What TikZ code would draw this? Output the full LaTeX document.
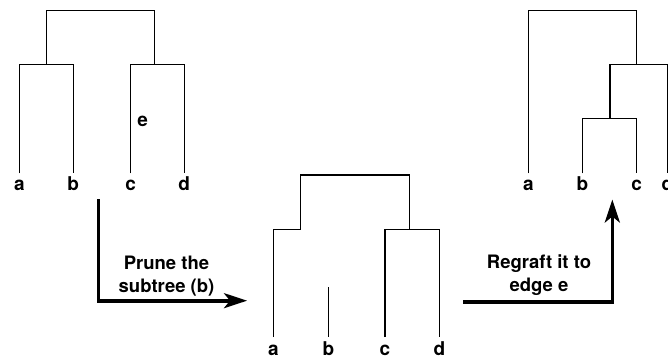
\documentclass[tikz,border=0pt]{standalone}
\usepackage{fontspec}
\setmainfont{TeX Gyre Heros}
\usetikzlibrary{arrows.meta}
\begin{document}
\begin{tikzpicture}[x=1pt,y=-1pt,
  branch/.style={draw=black,line width=1.3pt},
  leaf/.style={font=\fontsize{19}{22}\selectfont\bfseries,anchor=base,inner sep=0pt},
  move/.style={draw=black,line width=3.6pt,line join=miter,
    -{Stealth[length=23pt,width=15pt,inset=6pt]}},
  note/.style={font=\fontsize{18.5}{23.5}\selectfont\bfseries,align=center,inner sep=0pt}]
\useasboundingbox (0,0) rectangle (668,358);

% ---- tree 1: ((a,b),(c,d)) ----
\node[leaf] (a1) at (19.3,190.5) {a};
\node[leaf] (b1) at (73.3,190.5) {b};
\node[leaf] (c1) at (130.7,190.5) {c};
\node[leaf] (d1) at (184.3,190.5) {d};
\node[leaf] (e1) at (142.7,126.5) {e};
\coordinate (ab1) at (46.3,64.3);
\coordinate (cd1) at (154.3,64.3);
\draw[branch] (19.3,173.3) -- (19.3,64.3) -- (73.3,64.3) -- (73.3,173.3);
\draw[branch] (130.7,173.3) -- (130.7,64.3) -- (184.3,64.3) -- (184.3,173.3);
\draw[branch] (ab1) -- (46.3,10.7) -- (154.3,10.7) -- (cd1);

% ---- tree 2: b pruned ----
\node[leaf] (a2) at (273.3,355) {a};
\node[leaf] (b2) at (328.3,355) {b};
\node[leaf] (c2) at (385,355) {c};
\node[leaf] (d2) at (439.3,355) {d};
\coordinate (a2top) at (300.7,229.3);
\coordinate (cd2) at (409.3,229.3);
\draw[branch] (273.3,337) -- (273.3,229.3) -- (a2top) -- (300.7,175)
  -- (409.3,175) -- (cd2);
\draw[branch] (385,337) -- (385,229.3) -- (439.3,229.3) -- (439.3,337);
\draw[branch] (328.3,287.3) -- (328.3,337);

% ---- tree 3: (a,((b,c),d)) ----
\node[leaf] (a3) at (528.3,190.5) {a};
\node[leaf] (b3) at (582.3,190.5) {b};
\node[leaf] (c3) at (636.7,190.5) {c};
\node[leaf] (d3) at (667.3,190.5) {d};
\coordinate (bc3) at (610,118.7);
\coordinate (bcd3) at (636.7,64.3);
\draw[branch] (582.3,173.3) -- (582.3,118.7) -- (636.7,118.7) -- (636.7,173.3);
\draw[branch] (bc3) -- (610,64.3) -- (667.3,64.3) -- (667.3,173.3);
\draw[branch] (528.3,173.3) -- (528.3,10.7) -- (636.7,10.7) -- (bcd3);

% ---- moves ----
\coordinate (pstart) at (98.3,199.3);
\coordinate (pcorner) at (98.3,300.7);
\coordinate (pend) at (247,300.7);
\draw[move] (pstart) -- (pcorner) -- (pend);
\node[note] (prune) at (166.5,276) {Prune the\\subtree (b)};

\coordinate (rstart) at (463.3,301.7);
\coordinate (rcorner) at (612.3,301.7);
\coordinate (rend) at (612.3,199.5);
\draw[move] (rstart) -- (rcorner) -- (rend);
\node[note] (regraft) at (539,275) {Regraft it to\\edge e};
\end{tikzpicture}
\end{document}
